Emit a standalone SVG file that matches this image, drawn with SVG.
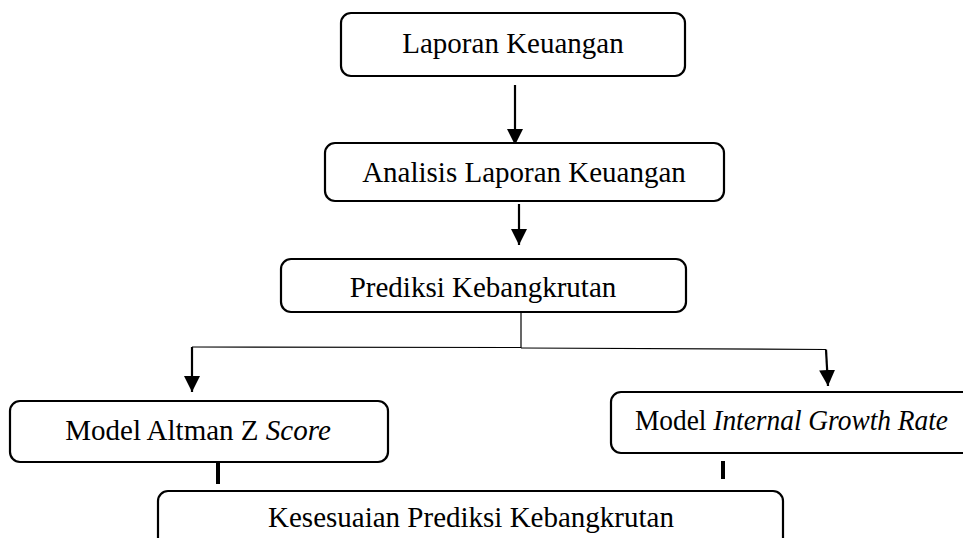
<svg xmlns="http://www.w3.org/2000/svg" width="963" height="538" viewBox="0 0 963 538">
<style>
.box{fill:#fff;stroke:#000;stroke-width:2.2}
.t{font-family:"Liberation Serif","Times New Roman",serif;font-size:29px;fill:#000;text-anchor:middle}
.i{font-style:italic}
.thin{fill:none;stroke:#000;stroke-width:1.2}
.med{fill:none;stroke:#000;stroke-width:2.2}
.thick{fill:none;stroke:#000;stroke-width:4}
</style>
<defs>
<marker id="ah" markerUnits="userSpaceOnUse" markerWidth="16" markerHeight="16" viewBox="0 0 16 16" refX="16" refY="8" orient="auto">
<path d="M0,0 L16,8 L0,16 Z" fill="#000"/>
</marker>
</defs>
<rect width="963" height="538" fill="#fff"/>
<g id="connectors">
<line class="med" x1="515" y1="85" x2="515" y2="145" marker-end="url(#ah)"/>
<line class="med" x1="519" y1="204" x2="519" y2="245" marker-end="url(#ah)"/>
<line class="thin" x1="521" y1="312" x2="521" y2="348"/>
<polyline class="thin" points="521,347.5 192,347"/>
<polyline class="med" points="192,347 192,392" marker-end="url(#ah)"/>
<polyline class="thin" points="521,348 826,349.5"/>
<polyline class="med" points="826,349.5 828,386" marker-end="url(#ah)"/>
<line class="thick" x1="218" y1="463" x2="218" y2="484"/>
<line class="thick" x1="723" y1="461" x2="723" y2="479"/>
</g>
<g id="n1">
<rect class="box" x="341" y="13" width="344" height="63" rx="10"/>
<text class="t" x="513" y="53">Laporan Keuangan</text>
</g>
<g id="n2">
<rect class="box" x="325" y="143" width="399" height="58" rx="10"/>
<text class="t" x="524" y="182">Analisis Laporan Keuangan</text>
</g>
<g id="n3">
<rect class="box" x="281" y="259" width="405" height="53" rx="10"/>
<text class="t" x="483" y="297">Prediksi Kebangkrutan</text>
</g>
<g id="n4">
<rect class="box" x="10" y="401" width="378" height="61" rx="10"/>
<text class="t" x="198" y="440">Model Altman Z <tspan class="i">Score</tspan></text>
</g>
<g id="n5">
<rect class="box" x="611" y="392" width="370" height="61" rx="10"/>
<text class="t" x="791.5" y="430" textLength="313" lengthAdjust="spacingAndGlyphs">Model <tspan class="i">Internal Growth Rate</tspan></text>
</g>
<g id="n6">
<rect class="box" x="158" y="491" width="625" height="70" rx="10"/>
<text class="t" x="471" y="527">Kesesuaian Prediksi Kebangkrutan</text>
</g>
</svg>
